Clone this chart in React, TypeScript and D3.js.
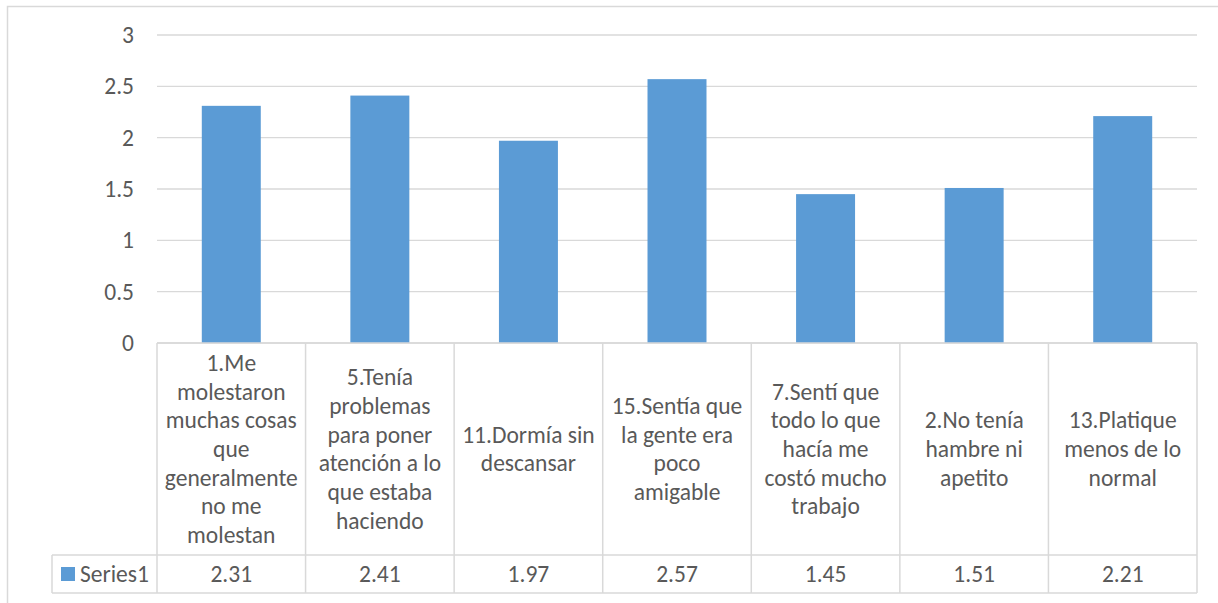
import React from "react";
import * as d3 from "d3";

const categories = [
  "1.Me\nmolestaron\nmuchas cosas\nque\ngeneralmente\nno me\nmolestan",
  "5.Tenía\nproblemas\npara poner\natención a lo\nque estaba\nhaciendo",
  "11.Dormía sin\ndescansar",
  "15.Sentía que\nla gente era\npoco\namigable",
  "7.Sentí que\ntodo lo que\nhacía me\ncostó mucho\ntrabajo",
  "2.No tenía\nhambre ni\napetito",
  "13.Platique\nmenos de lo\nnormal",
];
const values = [2.31, 2.41, 1.97, 2.57, 1.45, 1.51, 2.21];
const seriesName = "Series1";
const yTicks = [0, 0.5, 1, 1.5, 2, 2.5, 3];

const W = 1218;
const H = 603;
const plotLeft = 157;
const plotRight = 1197;
const plotTop = 35;
const plotBottom = 343;
const catRowBottom = 555;
const seriesRowBottom = 593;
const tableLeft = 52;

const FONT = "Calibri, Carlito, 'Open Sans', sans-serif";
const TEXT = "#595959";
const GRID = "#D9D9D9";
const BAR = "#5B9BD5";
const FS = 23.5;
const LH = 28.7;

export default function App() {
  const y = d3.scaleLinear().domain([0, 3]).range([plotBottom, plotTop]);
  const xCol = d3
    .scaleBand<number>()
    .domain(d3.range(categories.length))
    .range([plotLeft, plotRight])
    .padding(0);
  const xBar = d3
    .scaleBand<number>()
    .domain(d3.range(categories.length))
    .range([plotLeft, plotRight])
    .paddingInner(0.603)
    .paddingOuter(0.3015);

  const catMid = (plotBottom + catRowBottom) / 2;
  const serMid = (catRowBottom + seriesRowBottom) / 2;

  return (
    <svg
      width={W}
      height={H}
      style={{ position: "absolute", left: 0, top: 0, background: "#fff" }}
      fontFamily={FONT}
    >
      <rect x={7.5} y={6.5} width={1212} height={620} fill="#fff" stroke={GRID} strokeWidth={1.5} />
      {yTicks.map((t) => (
        <line key={"g" + t} x1={plotLeft} x2={plotRight} y1={y(t)} y2={y(t)} stroke={GRID} strokeWidth={1.3} />
      ))}
      {yTicks.map((t) => (
        <text
          key={"t" + t}
          x={134}
          y={y(t)}
          textAnchor="end"
          dominantBaseline="central"
          fontSize={FS}
          fill={TEXT}
        >
          {String(t)}
        </text>
      ))}
      {values.map((v, i) => (
        <rect
          key={"b" + i}
          x={xBar(i)!}
          y={y(v)}
          width={xBar.bandwidth()}
          height={y(0) - y(v)}
          fill={BAR}
        />
      ))}
      <g stroke={GRID} strokeWidth={1.5} fill="none">
        <line x1={plotLeft} x2={plotRight} y1={plotBottom} y2={plotBottom} />
        <line x1={tableLeft} x2={plotRight} y1={catRowBottom} y2={catRowBottom} />
        <line x1={tableLeft} x2={plotRight} y1={seriesRowBottom} y2={seriesRowBottom} />
        <line x1={tableLeft} x2={tableLeft} y1={catRowBottom} y2={seriesRowBottom} />
        {d3.range(categories.length + 1).map((i) => {
          const xx = i < categories.length ? xCol(i)! : plotRight;
          return <line key={"v" + i} x1={xx} x2={xx} y1={plotBottom} y2={seriesRowBottom} />;
        })}
      </g>
      {categories.map((c, i) => {
        const lines = c.split("\n");
        const cx = xCol(i)! + xCol.bandwidth() / 2;
        const start = catMid - ((lines.length - 1) * LH) / 2;
        return (
          <text key={"c" + i} textAnchor="middle" fontSize={FS} fill={TEXT}>
            {lines.map((l, j) => (
              <tspan key={j} x={cx} y={start + j * LH} dominantBaseline="central">
                {l}
              </tspan>
            ))}
          </text>
        );
      })}
      <rect x={61} y={567} width={14} height={14} fill={BAR} />
      <text x={80} y={serMid} dominantBaseline="central" fontSize={FS} fill={TEXT}>
        {seriesName}
      </text>
      {values.map((v, i) => (
        <text
          key={"v" + i}
          x={xCol(i)! + xCol.bandwidth() / 2}
          y={serMid}
          textAnchor="middle"
          dominantBaseline="central"
          fontSize={FS}
          fill={TEXT}
        >
          {v.toFixed(2)}
        </text>
      ))}
    </svg>
  );
}
